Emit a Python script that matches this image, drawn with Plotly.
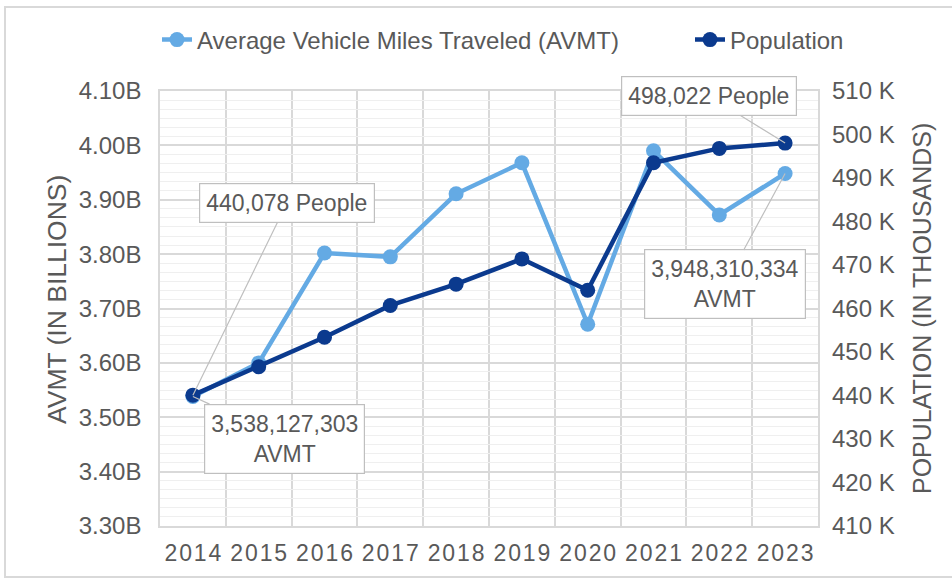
import plotly.graph_objects as go

years = ["2014", "2015", "2016", "2017", "2018", "2019", "2020", "2021", "2022", "2023"]
year_labels = ["\u200a".join(list(y)) for y in years]
avmt_billions = [3.538127303, 3.600, 3.802, 3.795, 3.911, 3.968, 3.671, 3.990, 3.872, 3.948310334]
population_k = [440.078, 446.6, 453.4, 460.7, 465.6, 471.4, 464.2, 493.5, 496.8, 498.022]
left_ticks = [3.30, 3.40, 3.50, 3.60, 3.70, 3.80, 3.90, 4.00, 4.10]
right_ticks = [410, 420, 430, 440, 450, 460, 470, 480, 490, 500, 510]

LIGHT = "#64aae4"
DARK = "#0b3a8e"
TXT = "#595959"
FONT = "Liberation Sans, Arial, sans-serif"
FS = 23

xs = list(range(len(years)))

fig = go.Figure()
fig.add_trace(go.Scatter(
    x=xs, y=avmt_billions, name="Average Vehicle Miles Traveled (AVMT)",
    mode="lines+markers", line=dict(color=LIGHT, width=4.5),
    marker=dict(color=LIGHT, size=15), yaxis="y", legend="legend"))
fig.add_trace(go.Scatter(
    x=xs, y=population_k, name="Population",
    mode="lines+markers", line=dict(color=DARK, width=4.5),
    marker=dict(color=DARK, size=15), yaxis="y2", legend="legend2"))

def callout(text, x, y, yref, ax, ay):
    fig.add_annotation(
        x=x, y=y, xref="x", yref=yref, text=text, showarrow=True,
        arrowhead=0, arrowwidth=1.2, arrowcolor="#bfbfbf",
        ax=ax, ay=ay, axref="pixel", ayref="pixel",
        font=dict(family=FONT, size=FS, color=TXT),
        bgcolor="white", bordercolor="#bfbfbf", borderwidth=1.2, borderpad=6,
        align="center")

first_avmt = f"{int(round(avmt_billions[0] * 1e9)):,}"
last_avmt = f"{int(round(avmt_billions[-1] * 1e9)):,}"
first_pop = f"{int(round(population_k[0] * 1000)):,}"
last_pop = f"{int(round(population_k[-1] * 1000)):,}"

callout(f"{first_pop} People", xs[0], population_k[0], "y2", 94, -192)
callout(f"{first_avmt}<br>AVMT", xs[0], avmt_billions[0], "y", 92, 42)
callout(f"{last_pop} People", xs[-1], population_k[-1], "y2", -76, -47)
callout(f"{last_avmt}<br>AVMT", xs[-1], avmt_billions[-1], "y", -60, 111)

W, H = 952, 579
L, R, T, B = 160, 952 - 818, 91, 579 - 526
PW, PH = W - L - R, H - T - B

# axis titles as rotated annotations
fig.add_annotation(text="AVMT (IN BILLIONS)", xref="paper", yref="paper",
                   x=(57 - L) / PW, y=(526 - 300) / PH, xanchor="center", yanchor="middle",
                   textangle=-90, showarrow=False, font=dict(family=FONT, size=26.5, color=TXT))
fig.add_annotation(text="POPULATION (IN THOUSANDS)", xref="paper", yref="paper",
                   x=(922 - L) / PW, y=(526 - 308) / PH, xanchor="center", yanchor="middle",
                   textangle=-90, showarrow=False, font=dict(family=FONT, size=25, color=TXT))

leg_common = dict(orientation="h", yanchor="middle", y=1 + 51 / PH, xanchor="left",
                  font=dict(family=FONT, size=24, color=TXT), bgcolor="rgba(0,0,0,0)")

fig.update_layout(
    width=W, height=H,
    margin=dict(l=L, r=R, t=T, b=B),
    paper_bgcolor="white", plot_bgcolor="white",
    font=dict(family=FONT, size=FS, color=TXT),
    showlegend=True,
    legend=dict(x=(157 - L) / PW, **leg_common),
    legend2=dict(x=(690 - L) / PW, **leg_common),
    xaxis=dict(range=[-0.5, 9.5], tickvals=xs, ticktext=year_labels,
               showgrid=False, zeroline=False, ticks="",
               showline=True, mirror=True, linecolor="#d9d9d9", linewidth=1.5,
               tickfont=dict(family=FONT, size=FS, color=TXT), ticklabelstandoff=6,
               minor=dict(tick0=-0.5, dtick=1, showgrid=True, gridcolor="#d9d9d9", gridwidth=1.5),
               fixedrange=True),
    yaxis=dict(range=[3.30, 4.10], tickvals=left_ticks,
               ticktext=[f"{v:.2f}B" for v in left_ticks],
               showgrid=True, gridcolor="#d9d9d9", gridwidth=1.5, zeroline=False,
               showline=True, mirror=True, linecolor="#d9d9d9", linewidth=1.5,
               minor=dict(tick0=3.30, dtick=0.1 / 6, showgrid=True, gridcolor="#efefef", gridwidth=1),
               tickfont=dict(family=FONT, size=24, color=TXT), ticks="", ticklabelstandoff=12),
    yaxis2=dict(range=[410, 510], tickvals=right_ticks,
                ticktext=[f"{v} K" for v in right_ticks],
                overlaying="y", side="right", showgrid=False, zeroline=False,
                tickfont=dict(family=FONT, size=24, color=TXT), ticks="", ticklabelstandoff=13),
    shapes=[dict(type="rect", xref="paper", yref="paper",
                 x0=-(L - 5) / PW, x1=(W - L + 10) / PW, y0=-(B - 2) / PH, y1=(PH + T - 7) / PH,
                 line=dict(color="#d9d9d9", width=2), fillcolor="rgba(0,0,0,0)", layer="below")],
)

fig.write_html("out.html", config={"displayModeBar": False},
               post_script="document.body.style.margin='0';")
